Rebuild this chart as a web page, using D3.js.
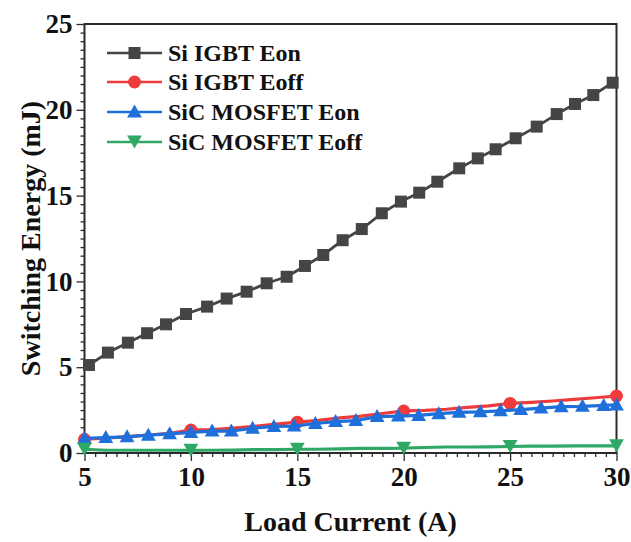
<!DOCTYPE html>
<html>
<head>
<meta charset="utf-8">
<script src="https://cdn.jsdelivr.net/npm/d3@7"></script>
<style>
  html, body { margin: 0; padding: 0; background: #fff; }
  svg { display: block; }
  text { font-family: "Liberation Serif", "Times New Roman", serif; font-weight: bold; fill: #111; }
</style>
</head>
<body>
<svg id="chart" width="631" height="542"></svg>
<script>
// Switching energy vs load current for Si IGBT and SiC MOSFET

// Si IGBT turn-on energy (mJ)
const igbtEonCurrent = [5.21, 6.10, 7.04, 7.94, 8.83, 9.77, 10.76, 11.68, 12.62, 13.56,
  14.50, 15.36, 16.22, 17.13, 18.03, 18.97, 19.87, 20.73, 21.58, 22.61,
  23.48, 24.32, 25.26, 26.25, 27.19, 28.05, 28.91, 29.82];
const igbtEon = [5.13, 5.85, 6.43, 6.98, 7.50, 8.10, 8.53, 9.00, 9.40, 9.89,
  10.27, 10.90, 11.54, 12.40, 13.05, 13.97, 14.65, 15.17, 15.81, 16.59,
  17.17, 17.70, 18.34, 19.02, 19.75, 20.34, 20.86, 21.58];

// Si IGBT turn-off energy (mJ)
const igbtEoffCurrent = [5, 6, 7, 8, 9, 10, 11, 12, 13, 14, 15, 16, 17, 18, 19,
  20, 21, 22, 23, 24, 25, 26, 27, 28, 29, 30];
const igbtEoff = [0.80, 0.86, 0.95, 1.05, 1.15, 1.34, 1.36, 1.45, 1.55, 1.68, 1.80,
  1.90, 2.05, 2.15, 2.30, 2.45, 2.48, 2.55, 2.66, 2.75, 2.89, 2.95, 3.03, 3.12, 3.22, 3.32];

// SiC MOSFET turn-on energy (mJ)
const sicEonCurrent = [5.0, 6.0, 7.0, 8.0, 9.0, 10.0, 11.0, 11.9, 12.9, 13.9,
  14.85, 15.85, 16.8, 17.75, 18.75, 19.75, 20.7, 21.65, 22.6, 23.6,
  24.55, 25.5, 26.45, 27.4, 28.4, 29.4, 30.0];
const sicEon = [0.86, 0.90, 0.94, 1.04, 1.12, 1.20, 1.28, 1.28, 1.44, 1.55,
  1.57, 1.72, 1.83, 1.89, 2.12, 2.15, 2.19, 2.29, 2.37, 2.40,
  2.46, 2.53, 2.62, 2.70, 2.72, 2.77, 2.80];

// SiC MOSFET turn-off energy (mJ)
const sicEoffCurrent = [5, 6, 7, 8, 9, 10, 11, 12, 13, 14, 15, 16, 17, 18, 19,
  20, 21, 22, 23, 24, 25, 26, 27, 28, 29, 30];
const sicEoff = [0.22, 0.16, 0.16, 0.16, 0.16, 0.16, 0.16, 0.17, 0.20, 0.20, 0.22,
  0.22, 0.24, 0.27, 0.27, 0.28, 0.32, 0.35, 0.35, 0.36, 0.38, 0.40, 0.40, 0.41, 0.41, 0.42];

// Load currents that carry a symbol on the sparse series
const sparseMarkerCurrents = [5, 10, 15, 20, 25, 30];

const xTicks = [5, 10, 15, 20, 25, 30];
const yTicks = [0, 5, 10, 15, 20, 25];
const xLabel = "Load Current (A)";
const yLabel = "Switching Energy (mJ)";
const seriesNames = ["Si IGBT Eon", "Si IGBT Eoff", "SiC MOSFET Eon", "SiC MOSFET Eoff"];

const W = 631, H = 542;
const margin = { top: 24, right: 14.5, bottom: 89, left: 84.5 };
const iw = W - margin.left - margin.right;
const ih = H - margin.top - margin.bottom;

const svg = d3.select("#chart");
const g = svg.append("g").attr("transform", `translate(${margin.left},${margin.top})`);

const x = d3.scaleLinear().domain([5, 30]).range([0, iw]);
const y = d3.scaleLinear().domain([0, 25]).range([ih, 0]);

const axisColor = "#2b2b2b";

// minor ticks every 0.5
const xMinor = d3.range(5, 30.001, 0.5).filter(v => Math.abs(v % 5) > 1e-6);
const yMinor = d3.range(0, 25.001, 0.5).filter(v => Math.abs(v % 5) > 1e-6);

function styleAxis(sel) {
  sel.select(".domain").remove();
  sel.selectAll("line").attr("stroke", axisColor).attr("stroke-width", 1.3);
}

g.append("g").attr("transform", `translate(0,${ih})`)
  .call(d3.axisBottom(x).tickValues(xMinor).tickSize(4).tickFormat(""))
  .call(styleAxis);
const xAx = g.append("g").attr("transform", `translate(0,${ih})`)
  .call(d3.axisBottom(x).tickValues(xTicks).tickSize(8).tickPadding(6).tickFormat(d3.format("d")))
  .call(styleAxis);
xAx.selectAll("text").style("font-size", "27px").attr("fill", "#111")
  .style("font-family", "'Liberation Serif', serif").style("font-weight", "bold");

g.append("g")
  .call(d3.axisLeft(y).tickValues(yMinor).tickSize(4).tickFormat(""))
  .call(styleAxis);
const yAx = g.append("g")
  .call(d3.axisLeft(y).tickValues(yTicks).tickSize(8).tickPadding(4).tickFormat(d3.format("d")))
  .call(styleAxis);
yAx.selectAll("text").style("font-size", "27px").attr("fill", "#111")
  .style("font-family", "'Liberation Serif', serif").style("font-weight", "bold");

// plot frame
g.append("rect").attr("x", 0).attr("y", 0).attr("width", iw).attr("height", ih)
  .attr("fill", "none").attr("stroke", axisColor).attr("stroke-width", 2);

// marker shapes
const shapes = {
  square: "M-6,-6H6V6H-6Z",
  circle: d3.symbol(d3.symbolCircle, 130)(),
  up: "M0,-7.5L7.4,5.5L-7.4,5.5Z",
  down: "M0,6.5L7.4,-6.5L-7.4,-6.5Z"
};

const series = [
  { name: seriesNames[0], xs: igbtEonCurrent, ys: igbtEon, color: "#454545", shape: "square", lw: 2.8, sparse: false },
  { name: seriesNames[1], xs: igbtEoffCurrent, ys: igbtEoff, color: "#ef3b3b", shape: "circle", lw: 3.2, sparse: true },
  { name: seriesNames[2], xs: sicEonCurrent, ys: sicEon, color: "#1f6fdb", shape: "up", lw: 3.2, sparse: false },
  { name: seriesNames[3], xs: sicEoffCurrent, ys: sicEoff, color: "#2fa866", shape: "down", lw: 3.2, sparse: true }
];

const line = d3.line().x(d => x(d[0])).y(d => y(d[1]));

series.forEach(s => {
  const pts = s.xs.map((v, i) => [v, s.ys[i]]);
  const grp = g.append("g");
  grp.append("path").datum(pts)
    .attr("fill", "none").attr("stroke", s.color).attr("stroke-width", s.lw)
    .attr("stroke-linejoin", "round").attr("d", line);
  const marked = s.sparse ? pts.filter(p => sparseMarkerCurrents.includes(p[0])) : pts;
  grp.selectAll("path.m").data(marked).join("path").attr("class", "m")
    .attr("d", shapes[s.shape]).attr("fill", s.color)
    .attr("transform", d => `translate(${x(d[0])},${y(d[1])})`);
});

// legend
const legend = svg.append("g");
const rowY = [53, 82, 112, 142];
series.forEach((s, i) => {
  const row = legend.append("g").attr("transform", `translate(0,${rowY[i]})`);
  row.append("line").attr("x1", 107).attr("x2", 162).attr("y1", 0).attr("y2", 0)
    .attr("stroke", s.color).attr("stroke-width", 2.6);
  row.append("path").attr("d", shapes[s.shape]).attr("fill", s.color)
    .attr("transform", "translate(134.5,0)");
  row.append("text").attr("x", 168).attr("y", 0).attr("dy", "0.35em")
    .style("font-size", "24px").text(s.name);
});

// axis titles
svg.append("text").attr("x", margin.left + iw / 2).attr("y", 531)
  .attr("text-anchor", "middle").style("font-size", "28px").text(xLabel);
svg.append("text")
  .attr("transform", `translate(30,${margin.top + ih / 2}) rotate(-90)`)
  .attr("text-anchor", "middle").attr("dy", "0.35em")
  .style("font-size", "28px").text(yLabel);
</script>
</body>
</html>
